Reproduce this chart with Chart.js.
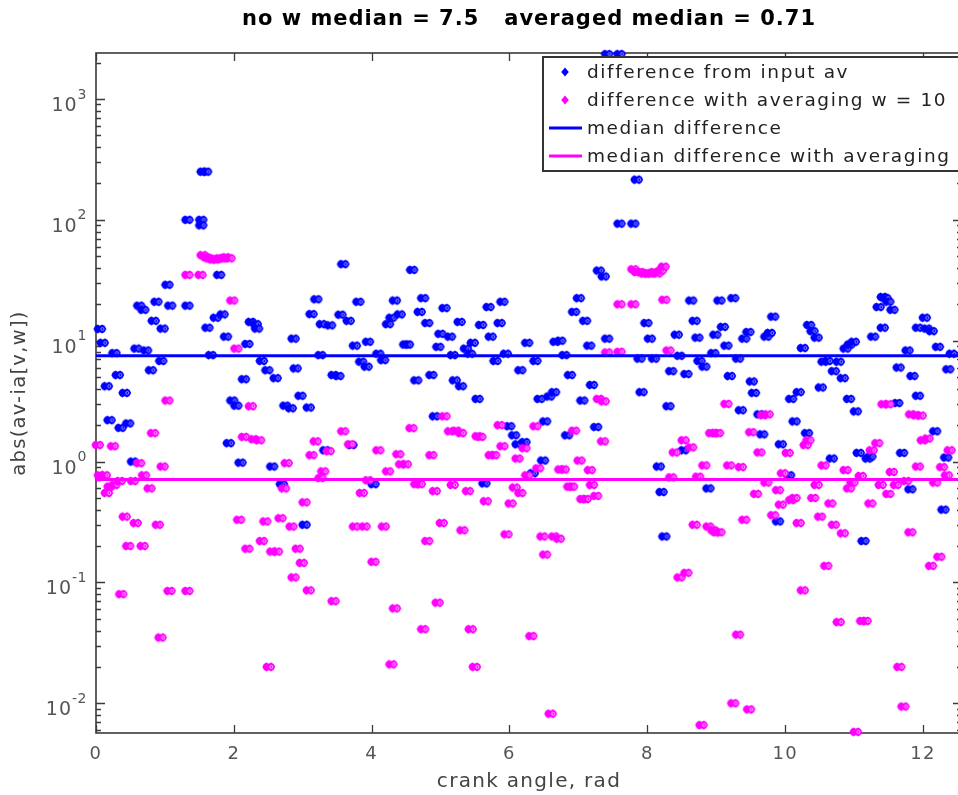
<!DOCTYPE html>
<html><head><meta charset="utf-8">
<script src="https://cdn.jsdelivr.net/npm/chart.js@4.4.1/dist/chart.umd.min.js"></script>
<style>html,body{margin:0;padding:0;overflow:hidden;background:#fff;width:958px;height:795px}
#wrap{width:968px;height:795px;position:relative}</style>
</head><body><div id="wrap"><canvas id="c" width="968" height="795"></canvas></div>
<script>
const titleText = 'no w median = 7.5   averaged median = 0.71';
const xTitle = 'crank angle, rad';
const yTitle = 'abs(av-ia[v,w])';
const legendLabels = ['difference from input av','difference with averaging w = 10','median difference','median difference with averaging'];
const xTicks = [0,2,4,6,8,10,12];
const yTickExps = [-2,-1,0,1,2,3];
const xMin = 0, xMax = 4*Math.PI;
const yMin = 0.00568, yMax = 2400;
const medianRaw = 7.5, medianAvg = 0.71;

const blueX = [0.06,0.10,0.16,0.20,0.27,0.32,0.36,0.42,0.47,0.54,0.59,0.63,0.69,0.73,0.80,0.84,0.88,0.95,0.97,1.04,1.08,1.33,1.33,1.53,1.53,1.55,1.60,1.62,1.67,1.74,1.79,1.84,1.89,1.93,1.98,2.04,2.10,2.15,2.20,2.25,2.32,2.34,2.41,2.49,2.56,2.61,2.70,2.75,2.83,2.87,2.90,2.97,3.03,3.09,3.13,3.20,3.26,3.28,3.33,3.40,3.45,3.52,3.55,3.59,3.67,3.71,3.76,3.81,3.85,3.93,3.95,4.03,4.10,4.17,4.24,4.29,4.34,4.41,4.49,4.53,4.59,4.65,4.70,4.75,4.81,4.87,4.92,4.97,5.00,5.06,5.14,5.18,5.21,5.28,5.30,5.37,5.43,5.47,5.54,5.59,5.64,5.70,5.73,5.80,5.86,5.90,5.95,6.00,6.07,6.12,6.16,6.22,6.26,6.34,6.38,6.44,6.49,6.52,6.58,6.65,6.67,6.74,6.80,6.84,6.88,6.94,7.01,7.06,7.10,7.16,7.20,7.26,7.30,7.37,7.42,7.42,7.60,7.60,7.80,7.85,7.89,7.92,7.99,8.04,8.10,8.17,8.21,8.25,8.31,8.35,8.43,8.47,8.53,8.57,8.64,8.69,8.73,8.76,8.83,8.89,8.96,8.99,9.05,9.10,9.15,9.20,9.25,9.32,9.36,9.41,9.47,9.52,9.55,9.63,9.67,9.73,9.78,9.83,9.90,9.94,10.06,10.09,10.14,10.20,10.26,10.32,10.35,10.40,10.46,10.52,10.56,10.62,10.68,10.71,10.78,10.84,10.88,10.93,10.94,11.00,11.03,11.07,11.14,11.20,11.24,11.28,11.36,11.42,11.42,11.46,11.50,11.56,11.63,11.65,11.70,11.78,11.82,11.85,11.93,11.93,12.03,12.06,12.13,12.18,12.22,12.30,12.34,12.37,12.42];
const blueY = [12.5,9.6,4.2,2.2,7.9,5.2,1.9,3.7,2.07,1.0,8.6,19.5,18,8.3,5.7,14.6,21,6.8,12.6,29,19.5,100,19.5,100,90,250,250,12.8,7.6,15.5,35,16.5,10.8,1.42,3.2,2.9,0.98,4.8,9.4,14.3,13.7,12.6,6.8,5.7,0.91,4.9,0.65,2.9,2.76,10.4,5.9,3.5,0.3,2.8,16.6,22,7.6,13.7,1.24,13.4,5.2,5.1,16.4,43,14.6,1.37,9.1,21,6.7,6.1,9.8,0.65,7.8,6.9,13.7,15.5,21.5,16.5,9.3,9.3,38.5,4.7,17.3,22.5,14,5.2,2.37,8.9,11.4,18.6,10.8,7.6,4.7,14.3,4.2,8.6,7.8,9.6,3.3,13.5,0.66,19,10.8,6.8,14,21,7.8,1.96,1.65,1.39,5.7,1.45,9.6,0.8,6.8,3.3,1.02,2.15,3.45,3.75,9.8,10,7.6,1.65,5.2,17.3,22.5,3.2,14.6,9.1,4.3,1.93,38,34,10.4,2350,2350,93,93,215,7.1,3.75,14,10.4,7.1,0.91,0.56,0.24,2.87,5.6,11.2,7.5,1.24,5.3,21.5,14.6,10.6,6.8,6.1,0.6,7.9,11.2,21.5,13,9.1,5.1,22.5,7.1,2.66,10.4,11.8,4.6,3.7,2.46,1.68,10.8,11.6,15.8,0.32,1.39,0.77,3.3,2.15,3.75,8.7,1.72,13.5,12,10.6,4.1,6.7,6.8,1.06,5.6,6.7,4.9,8.6,3.3,9.3,9.8,2.6,1.18,0.22,1.06,1.1,10.8,19,23,12.8,22.5,21,18,3.05,6,1.18,8.3,0.59,5.1,12.8,3.5,15.5,12.6,12,1.78,8.9,0.4,1.08,5.8,7.8];

const magX = [0.03,0.06,0.13,0.16,0.20,0.25,0.27,0.35,0.37,0.42,0.47,0.54,0.58,0.63,0.68,0.70,0.78,0.83,0.90,0.94,0.97,1.04,1.07,1.33,1.33,1.52,1.55,1.60,1.64,1.69,1.74,1.79,1.84,1.89,1.94,1.98,2.04,2.08,2.15,2.20,2.25,2.29,2.37,2.41,2.46,2.51,2.56,2.63,2.68,2.73,2.77,2.84,2.87,2.93,2.99,3.03,3.09,3.13,3.19,3.26,3.30,3.38,3.45,3.59,3.69,3.76,3.86,3.90,3.95,4.03,4.10,4.18,4.24,4.29,4.34,4.39,4.43,4.50,4.58,4.65,4.70,4.75,4.81,4.87,4.92,4.96,5.02,5.06,5.14,5.18,5.23,5.30,5.32,5.40,5.44,5.50,5.54,5.58,5.66,5.73,5.78,5.86,5.90,5.96,6.02,6.08,6.12,6.16,6.22,6.26,6.32,6.38,6.42,6.48,6.52,6.60,6.65,6.72,6.74,6.79,6.87,6.91,6.94,7.02,7.06,7.11,7.17,7.20,7.26,7.30,7.36,7.37,7.42,7.60,7.60,7.80,7.80,7.85,7.90,7.95,8.00,8.05,8.10,8.15,8.20,8.24,8.25,8.31,8.35,8.40,8.47,8.53,8.57,8.64,8.69,8.74,8.79,8.83,8.89,8.93,8.98,9.03,8.96,9.00,9.05,9.15,9.19,9.25,9.32,9.36,9.41,9.48,9.51,9.58,9.63,9.68,9.73,9.75,9.83,9.90,9.94,9.97,10.04,10.09,10.14,10.20,10.26,10.30,10.34,10.41,10.46,10.51,10.56,10.60,10.66,10.71,10.78,10.84,10.88,10.93,10.98,11.03,11.10,11.12,11.17,11.24,11.26,11.34,11.39,11.43,11.50,11.50,11.55,11.61,11.66,11.72,11.76,11.82,11.83,11.90,11.97,11.93,12.00,12.07,12.12,12.18,12.24,12.28,12.35,12.39];
const magY = [1.37,0.77,0.77,0.55,0.62,1.34,0.64,0.69,0.08,0.35,0.2,0.69,0.31,0.97,0.2,0.77,0.6,1.72,0.3,0.035,0.91,3.2,0.085,35,0.085,35,51,49,48,47,47,48,48,49,48,21.5,8.6,0.33,1.6,0.19,2.87,1.53,1.5,0.22,0.32,0.02,0.18,0.18,0.34,0.6,0.97,0.29,0.11,0.19,0.145,0.46,0.086,1.13,1.47,0.73,0.83,1.22,0.07,1.78,1.39,0.29,0.55,0.29,0.7,0.148,1.24,0.29,0.83,0.021,0.061,1.15,0.95,0.95,1.89,0.65,0.65,0.041,0.22,1.13,0.57,0.068,0.31,2.37,1.78,0.64,1.8,1.72,0.27,0.57,0.041,0.02,1.62,1.6,0.47,1.13,1.13,2.0,1.34,0.25,0.45,0.61,1.06,0.55,1.29,0.77,0.036,1.96,0.88,0.24,0.17,0.0082,0.24,0.23,0.86,0.86,0.62,0.62,1.8,1.02,0.49,0.49,0.85,0.64,0.52,3.3,1.47,3.15,8,8.1,20,20,39,37,37,36,36,36,37,36,38,41,21.8,8.3,0.74,1.19,0.11,1.5,0.12,1.31,0.3,0.75,0.0066,0.93,0.29,1.72,1.72,1.72,0.27,0.26,0.26,3.0,0.93,0.01,0.037,0.9,0.33,0.0089,1.75,0.54,1.19,2.42,0.67,2.46,0.36,0.58,0.44,0.8,1.18,0.48,0.5,0.31,0.086,1.37,1.5,0.5,0.64,0.35,0.93,0.137,0.45,0.3,0.047,0.255,0.85,0.6,0.67,0.0058,0.76,0.048,0.048,0.45,1.24,1.42,0.64,2.98,2.98,0.54,0.82,0.64,0.02,0.0094,0.69,0.26,2.46,2.42,2.4,0.91,1.5,1.55,0.137,0.67,0.163,0.9,0.77,1.24];

const BLUE = '#0000ff', MAG = '#ff00ff';

function blob(fill, light){
  const c = document.createElement('canvas'); c.width = 16; c.height = 12;
  const g = c.getContext('2d');
  g.filter = 'blur(0.45px)';
  g.fillStyle = fill;
  for (const cx of [5.5, 10]) {
    g.beginPath(); g.moveTo(cx, 1.6); g.quadraticCurveTo(cx + 3.2, 2.6, cx + 4.2, 6); g.quadraticCurveTo(cx + 3.2, 9.4, cx, 10.4);
    g.quadraticCurveTo(cx - 3.2, 9.4, cx - 4.2, 6); g.quadraticCurveTo(cx - 3.2, 2.6, cx, 1.6); g.closePath(); g.fill();
  }
  g.filter = 'none';
  g.strokeStyle = light; g.lineWidth = 0.9;
  g.beginPath(); g.arc(10.3, 6, 1.5, 0, Math.PI * 2); g.stroke();
  return c;
}

function diamond(ctx, cx, cy, color){
  ctx.fillStyle = color; ctx.beginPath();
  ctx.moveTo(cx, cy - 4.5); ctx.lineTo(cx + 3.8, cy); ctx.lineTo(cx, cy + 4.5); ctx.lineTo(cx - 3.8, cy); ctx.closePath(); ctx.fill();
}

const overlay = {
  id: 'overlay',
  beforeDraw(chart){ chart.ctx.letterSpacing = '1.3px'; },
  beforeDatasetsDraw(chart){
    const {ctx, chartArea: a, scales: {x, y}} = chart;
    ctx.save();
    ctx.letterSpacing = '0px';
    ctx.strokeStyle = '#3a3a3a'; ctx.lineWidth = 1.6;
    ctx.strokeRect(a.left, a.top, a.right - a.left, a.bottom - a.top);
    ctx.lineWidth = 1.3;
    ctx.beginPath();
    xTicks.forEach(v => { const px = Math.round(x.getPixelForValue(v)) + 0.5;
      ctx.moveTo(px, a.bottom); ctx.lineTo(px, a.bottom - 8); ctx.moveTo(px, a.top); ctx.lineTo(px, a.top + 8); });
    for (let e = -3; e <= 3; e++) for (let m = 1; m < 10; m++) {
      const v = m * Math.pow(10, e); if (v < yMin || v > yMax) continue;
      const py = Math.round(y.getPixelForValue(v)) + 0.5; const len = m === 1 ? 9 : 5;
      ctx.moveTo(a.left, py); ctx.lineTo(a.left + len, py); ctx.moveTo(a.right, py); ctx.lineTo(a.right - len, py);
    }
    ctx.stroke();
    // y tick labels 10^k
    ctx.fillStyle = '#555'; ctx.textBaseline = 'middle';
    yTickExps.forEach(e => {
      const py = y.getPixelForValue(Math.pow(10, e));
      const ex = String(e);
      ctx.font = '14px "DejaVu Sans"'; ctx.letterSpacing = '0.5px';
      const we = ctx.measureText(ex).width;
      ctx.textAlign = 'left'; ctx.fillText(ex, 87 - we, py - 4);
      ctx.font = '19px "DejaVu Sans"'; ctx.letterSpacing = '1px';
      ctx.textAlign = 'right'; ctx.fillText('10', 87 - we, py + 7);
    });
    // title
    ctx.fillStyle = '#000'; ctx.font = 'bold 21px "DejaVu Sans"'; ctx.letterSpacing = '1px';
    ctx.textAlign = 'center'; ctx.textBaseline = 'middle';
    ctx.fillText(titleText, (a.left + a.right) / 2, 20);
    ctx.restore();
  },
  afterDraw(chart){
    const {ctx} = chart;
    ctx.save();
    ctx.letterSpacing = '0px';
    const L = 543, T = 57, W = 440, H = 114;
    ctx.fillStyle = '#fff'; ctx.fillRect(L, T, W, H);
    ctx.strokeStyle = '#333'; ctx.lineWidth = 2; ctx.strokeRect(L, T, W, H);
    const rows = [72, 100, 128, 156];
    diamond(ctx, 565, rows[0], BLUE);
    diamond(ctx, 565, rows[1], MAG);
    ctx.lineWidth = 3;
    ctx.strokeStyle = BLUE; ctx.beginPath(); ctx.moveTo(549, rows[2]); ctx.lineTo(582, rows[2]); ctx.stroke();
    ctx.strokeStyle = MAG; ctx.beginPath(); ctx.moveTo(549, rows[3]); ctx.lineTo(582, rows[3]); ctx.stroke();
    ctx.fillStyle = '#222'; ctx.font = '18.5px "DejaVu Sans"'; ctx.letterSpacing = '1.6px';
    ctx.textAlign = 'left'; ctx.textBaseline = 'middle';
    legendLabels.forEach((t, i) => ctx.fillText(t, 587, rows[i] + 1));
    ctx.restore();
  }
};

new Chart(document.getElementById('c'), {
  type: 'scatter',
  data: { datasets: [
    { label: legendLabels[0], data: blueX.map((v, i) => ({x: v, y: blueY[i]})), pointStyle: blob(BLUE, '#9a9aff'), pointRadius: 5, backgroundColor: BLUE, borderColor: BLUE, clip: false, order: 4 },
    { label: legendLabels[1], data: magX.map((v, i) => ({x: v, y: magY[i]})), pointStyle: blob(MAG, '#ffc0ff'), pointRadius: 5, backgroundColor: MAG, borderColor: MAG, clip: false, order: 3 },
    { type: 'line', label: legendLabels[2], data: [{x: xMin, y: medianRaw}, {x: xMax, y: medianRaw}], borderColor: BLUE, borderWidth: 3, pointRadius: 0, order: 2 },
    { type: 'line', label: legendLabels[3], data: [{x: xMin, y: medianAvg}, {x: xMax, y: medianAvg}], borderColor: MAG, borderWidth: 3, pointRadius: 0, order: 1 }
  ]},
  options: {
    responsive: false, animation: false, devicePixelRatio: 1,
    layout: { padding: { top: 53, right: 1, left: 0, bottom: 0 } },
    plugins: { legend: { display: false }, tooltip: { enabled: false }, title: { display: false } },
    scales: {
      x: { type: 'linear', min: xMin, max: xMax,
        afterBuildTicks: s => { s.ticks = xTicks.map(v => ({value: v})); },
        afterFit: s => { s.height = 62; },
        grid: { display: false }, border: { display: false },
        ticks: { font: { family: 'DejaVu Sans', size: 18 }, color: '#555', padding: 3, maxRotation: 0, autoSkip: false },
        title: { display: true, text: xTitle, font: { family: 'DejaVu Sans', size: 20 }, color: '#444', padding: { top: 0, bottom: 1 } } },
      y: { type: 'logarithmic', min: yMin, max: yMax,
        afterBuildTicks: s => { s.ticks = yTickExps.map(e => ({value: Math.pow(10, e), major: true})); },
        afterFit: s => { s.width = 96; },
        grid: { display: false }, border: { display: false },
        ticks: { display: false },
        title: { display: true, text: yTitle, font: { family: 'DejaVu Sans', size: 19.5 }, color: '#444', padding: { top: 8, bottom: 0 } } }
    }
  },
  plugins: [overlay]
});
</script></body></html>
